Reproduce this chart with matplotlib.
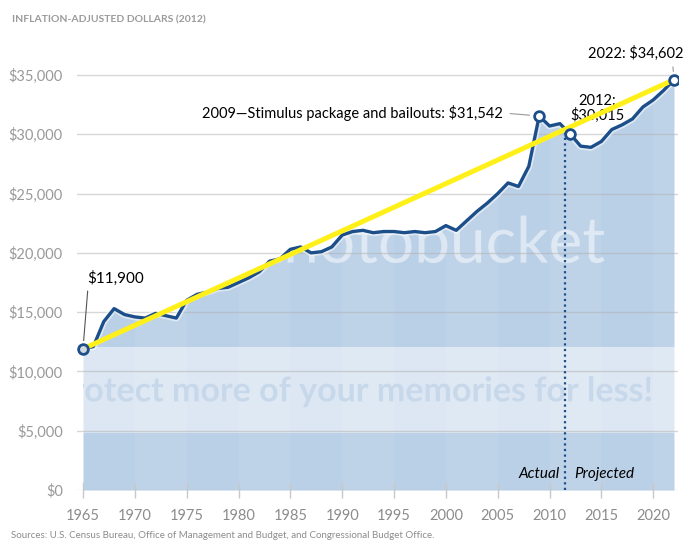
import matplotlib
matplotlib.use('Agg')
import matplotlib.pyplot as plt
import matplotlib.patheffects as pe
import matplotlib.transforms as mtransforms
from matplotlib.textpath import TextPath
from matplotlib.font_manager import FontProperties
from matplotlib.patches import PathPatch
from matplotlib.ticker import FuncFormatter
import numpy as np

plt.rcParams['font.family'] = ['Lato', 'DejaVu Sans']

# Gasto federal per cápita (dólares de 2012)
anios = list(range(1965, 2023))
gasto = [11900, 12100, 14200, 15300, 14800, 14600, 14500, 14900, 14700, 14500,
         16000, 16500, 16700, 17000, 17100, 17500, 17900, 18400, 19300, 19500,
         20300, 20500, 20000, 20100, 20500, 21500, 21800, 21900, 21700, 21800,
         21800, 21700, 21800, 21700, 21800, 22300, 21900, 22700, 23500, 24200,
         25000, 25900, 25600, 27300, 31542, 30700, 30900, 30015, 29000, 28900,
         29400, 30400, 30800, 31300, 32300, 32900, 33700, 34602]
anios_destacados = [2009, 2012, 2022]
textos_destacados = ['2009\u2014Stimulus package and bailouts: $31,542',
                     '2012:\n$30,015', '2022: $34,602']
corte_real = 2011.5
xticks = list(range(1965, 2021, 5))
yticks = list(range(0, 35001, 5000))

azul = '#1c4f8a'
relleno = '#bad0e7'
gris = '#8c8c8c'

fig = plt.figure(figsize=(6.96, 5.48), dpi=100)
ax = fig.add_axes([0.1103, 0.1058, 0.864, 0.8006])
ax.set_xlim(1964.4, 2022.4)
ax.set_ylim(0, 37000)

# Área bajo la curva
poly = ax.fill_between(anios, gasto, 0, color=relleno, lw=0, zorder=1)
ruta = poly.get_paths()[0]

# Franjas verticales suaves cada 5 años
for k, inicio in enumerate(range(1965, 2022, 5)):
    if k % 2 == 1:
        franja = ax.axvspan(inicio, inicio + 5, color='white', alpha=0.08, lw=0, zorder=1.2)
        franja.set_clip_path(ruta, ax.transData)


def texto_recortado(s, x, y, size, weight, color, alpha, z):
    # texto como trazado, para poder recortarlo con el área
    tp = TextPath((0, 0), s, size=size, prop=FontProperties(family='Lato', weight=weight))
    bb = tp.get_extents()
    tr = (mtransforms.Affine2D().translate(-(bb.x0 + bb.width / 2), -(bb.y0 + bb.height / 2))
          .scale(fig.dpi / 72) + mtransforms.ScaledTranslation(x, y, ax.transData))
    p = PathPatch(tp, transform=tr, fc=color, lw=0, alpha=alpha, zorder=z)
    ax.add_artist(p)
    p.set_clip_path(ruta, ax.transData)


# Marca de agua (banda clara y textos)
ax.axhspan(4800, 12050, color='white', alpha=0.5, lw=0, zorder=2)
texto_recortado('protect more of your memories for less!', 1991.0, 8300, 24.5, 'bold',
                '#c8d8eb', 1, 2.1)
texto_recortado('photobucket', 1998.3, 20700, 46, 'normal', 'white', 0.5, 2.1)

# Línea principal
ax.plot(anios, gasto, color=azul, lw=2.4, zorder=5, solid_joinstyle='round',
        path_effects=[pe.Stroke(linewidth=5, foreground='white', alpha=0.5), pe.Normal()])

# Línea vertical Actual / Projected
ax.vlines(corte_real, 0, np.interp(corte_real, anios, gasto), colors=azul,
          linestyles=(0, (1, 1.5)), lw=1.6, zorder=4)
ax.text(corte_real - 0.5, 1350, 'Actual', style='italic', fontsize=11, ha='right', va='center')
ax.text(corte_real + 0.9, 1350, 'Projected', style='italic', fontsize=11, ha='left', va='center')

# Tendencia amarilla
ax.plot([anios[0], anios[-1]], [gasto[0], gasto[-1]], color='#fff01a', lw=3.6, zorder=6,
        solid_capstyle='round')

# Marcadores
ax.plot(anios[0], gasto[0], 'o', ms=7, mfc='#d3d9e0', mec=azul, mew=2, zorder=7)
valores_dest = [gasto[anios.index(a)] for a in anios_destacados]
ax.plot(anios_destacados, valores_dest, 'o', ms=7, mfc='white', mec=azul, mew=2, zorder=7)

# Anotaciones
ax.annotate('$11,900', xy=(anios[0], gasto[0]), xytext=(4, 71), textcoords='offset pixels',
            fontsize=11, ha='left', va='center',
            arrowprops=dict(arrowstyle='-', color='#555555', lw=0.8, relpos=(0.02, 0),
                            shrinkA=2, shrinkB=6))
ax.annotate(textos_destacados[0], xy=(2009, valores_dest[0]), xytext=(-36, 3),
            textcoords='offset pixels', fontsize=10.5, ha='right', va='center',
            arrowprops=dict(arrowstyle='-', color='#999999', lw=0.8, relpos=(1, 0.5),
                            shrinkA=3, shrinkB=7))
ax.annotate(textos_destacados[1], xy=(2012, valores_dest[1]), xytext=(27, 26),
            textcoords='offset pixels', fontsize=10.5, ha='center', va='center',
            linespacing=1.0)
ax.annotate(textos_destacados[2], xy=(2022, valores_dest[2]), xytext=(10, 26),
            textcoords='offset pixels', fontsize=10.5, ha='right', va='center',
            arrowprops=dict(arrowstyle='-', color='#999999', lw=0.8, relpos=(0.88, 0),
                            shrinkA=2, shrinkB=6))

# Ejes
ax.set_xlim(1964.4, 2022.4)
ax.set_ylim(0, 37000)
ax.set_xticks(xticks)
ax.set_yticks(yticks)
ax.yaxis.set_major_formatter(FuncFormatter(lambda v, p: f'${v:,.0f}'))
ax.grid(axis='y', color='#b0b0b0', alpha=0.5, lw=1)
ax.set_axisbelow(False)
for s in ax.spines.values():
    s.set_visible(False)
ax.tick_params(axis='x', direction='inout', length=12, color='#c8c8c8', width=1,
               labelsize=10.5, labelcolor=gris, pad=8)
ax.tick_params(axis='y', length=0, labelsize=10.5, labelcolor='#999999', pad=10)

fig.text(0.017, 0.9635, 'INFLATION-ADJUSTED DOLLARS (2012)', fontsize=7.5,
         fontweight='bold', color='#9a9a9a', ha='left', va='center')
fig.text(0.016, 0.0237, 'Sources: U.S. Census Bureau, Office of Management and Budget, '
         'and Congressional Budget Office.', fontsize=7, color='#8c8c8c',
         ha='left', va='center')

fig.savefig('out.png', dpi=100)
